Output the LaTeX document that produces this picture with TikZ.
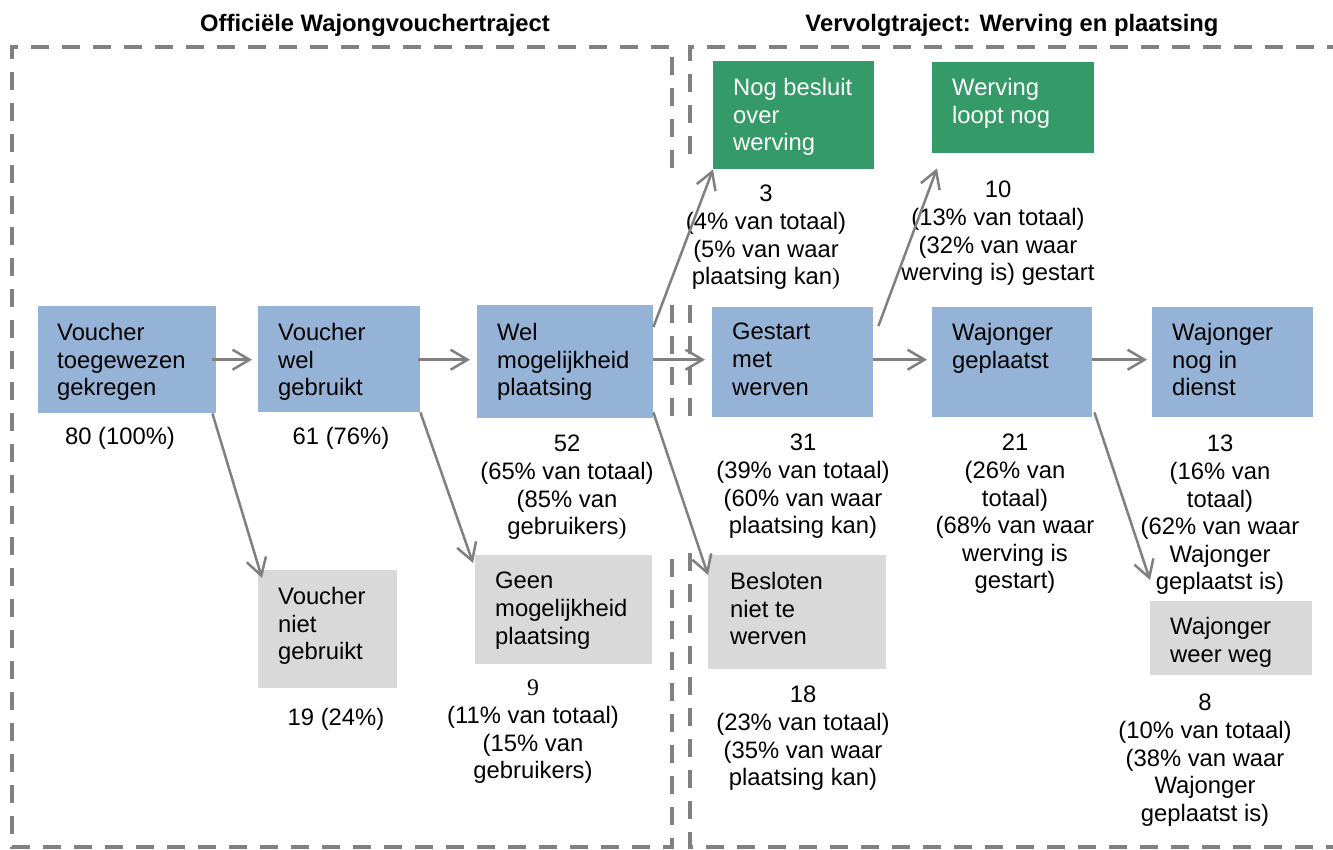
\documentclass[tikz,border=0pt]{standalone}
\usepackage{fontspec}
\setmainfont{Liberation Sans}
\newfontfamily\sernine{Liberation Serif}
\usetikzlibrary{arrows.meta}
\definecolor{boxblue}{HTML}{95B3D7}
\definecolor{boxgreen}{HTML}{349A68}
\definecolor{boxgray}{HTML}{D9D9D9}
\definecolor{linegray}{HTML}{808080}
\begin{document}
\begin{tikzpicture}[x=1pt,y=-1pt,
  box/.style={draw=none, inner sep=0pt, anchor=north west},
  bluebox/.style={box, fill=boxblue},
  greenbox/.style={box, fill=boxgreen},
  graybox/.style={box, fill=boxgray},
  boxtext/.style={anchor=north west, inner sep=0pt, align=left, font=\fontsize{23.8}{27.6}\selectfont},
  lbl/.style={anchor=north, inner sep=0pt, align=center, font=\fontsize{23.8}{27.6}\selectfont},
  title/.style={anchor=north, inner sep=0pt, font=\fontsize{23.8}{27.6}\selectfont\bfseries},
  frame/.style={draw=linegray, line width=4.5pt, dash pattern=on 18pt off 13pt},
  conn/.style={draw=linegray, line width=2.5pt, -{Straight Barb[length=17pt,width=20pt]}}
]
\path[use as bounding box, fill=white] (0,0) rectangle (1333,849);

% frames
\draw[frame] (672,168) -- (672,47) -- (12,47) -- (12,847) -- (672,847) -- (672,553);
\draw[frame] (672,305) -- (672,418);
\draw[frame] (1345,47) -- (690,47) -- (690,160);
\draw[frame] (690,305) -- (690,418);
\draw[frame] (690,553) -- (690,847) -- (1345,847);

% titles
\node[title] (t1) at (375,14) {Officiële Wajongvouchertraject};
\node[title] (t2) at (1012,14) {Vervolgtraject: Werving en plaatsing};

% boxes
\node[bluebox, minimum width=178pt, minimum height=107pt] (b1) at (38,306) {};
\node[bluebox, minimum width=162pt, minimum height=106pt] (b2) at (258,306) {};
\node[bluebox, minimum width=176pt, minimum height=113pt] (b3) at (477,305) {};
\node[bluebox, minimum width=161pt, minimum height=110pt] (b4) at (712,307) {};
\node[bluebox, minimum width=160pt, minimum height=110pt] (b5) at (932,307) {};
\node[bluebox, minimum width=161pt, minimum height=110pt] (b6) at (1152,307) {};
\node[greenbox, minimum width=161pt, minimum height=108pt] (g1) at (713,61) {};
\node[greenbox, minimum width=162pt, minimum height=91pt] (g2) at (932,62) {};
\node[graybox, minimum width=139pt, minimum height=118pt] (gr1) at (258,570) {};
\node[graybox, minimum width=177pt, minimum height=109pt] (gr2) at (475,555) {};
\node[graybox, minimum width=178pt, minimum height=114pt] (gr3) at (708,555) {};
\node[graybox, minimum width=162pt, minimum height=74pt] (gr4) at (1150,601) {};

% box texts
\node[boxtext] (b1t) at (57,323) {Voucher\\toegewezen\\gekregen};
\node[boxtext] (b2t) at (278,323) {Voucher\\wel\\gebruikt};
\node[boxtext] (b3t) at (497,323) {Wel\\mogelijkheid\\plaatsing};
\node[boxtext] (b4t) at (732,323) {Gestart\\met\\werven};
\node[boxtext] (b5t) at (952,323) {Wajonger\\geplaatst};
\node[boxtext] (b6t) at (1172,323) {Wajonger\\nog in\\dienst};
\node[boxtext, text=white] (g1t) at (733,78) {Nog besluit\\over\\werving};
\node[boxtext, text=white] (g2t) at (952,78) {Werving\\loopt nog};
\node[boxtext] (gr1t) at (278,587) {Voucher\\niet\\gebruikt};
\node[boxtext] (gr2t) at (495,572) {Geen\\mogelijkheid\\plaatsing};
\node[boxtext] (gr3t) at (730,572) {Besloten\\niet te\\werven};
\node[boxtext] (gr4t) at (1170,617) {Wajonger\\weer weg};

% labels
\node[lbl] (l1) at (120,427) {80 (100\%)};
\node[lbl] (l2) at (341,427) {61 (76\%)};
\node[lbl] (l3) at (567,435) {52\\(65\% van totaal)\\(85\% van\\gebruikers{\sernine )}};
\node[lbl] (l4) at (766,185) {3\\(4\% van totaal)\\(5\% van waar\\plaatsing kan{\sernine )}};
\node[lbl] (l5) at (998,181) {10\\(13\% van totaal)\\(32\% van waar\\werving is) gestart};
\node[lbl] (l6) at (803,434) {31\\(39\% van totaal)\\(60\% van waar\\plaatsing kan)};
\node[lbl] (l7) at (1015,434) {21\\(26\% van\\totaal)\\(68\% van waar\\werving is\\gestart)};
\node[lbl] (l8) at (1220,435) {13\\(16\% van\\totaal)\\(62\% van waar\\Wajonger\\geplaatst is)};
\node[lbl] (l9) at (336,708) {19 (24\%)};
\node[lbl] (l10) at (533,680) {{\sernine 9}\\(11\% van totaal)\\(15\% van\\gebruikers)};
\node[lbl] (l11) at (803,686) {18\\(23\% van totaal)\\(35\% van waar\\plaatsing kan)};
\node[lbl] (l12) at (1205,694) {8\\(10\% van totaal)\\(38\% van waar\\Wajonger\\geplaatst is)};

% connectors
\draw[conn] ([xshift=-4pt]b1.east) -- ([xshift=-6pt]b2.west |- b1.east);
\draw[conn] ([xshift=-2pt]b2.east |- b1.east) -- ([xshift=-7pt]b3.west |- b1.east);
\draw[conn] (b3.east |- b1.east) -- ([xshift=-7pt]b4.west |- b1.east);
\draw[conn] (b4.east |- b1.east) -- ([xshift=-5pt]b5.west |- b1.east);
\draw[conn] (b5.east |- b1.east) -- ([xshift=-5pt]b6.west |- b1.east);
\draw[conn] ([xshift=-4pt]b1.south east) -- ([xshift=4pt,yshift=-8pt]gr1.north west);
\draw[conn] (b2.south east) -- ([xshift=-2pt,yshift=-8pt]gr2.north west);
\draw[conn] ([yshift=6pt]b3.south east) -- ([yshift=-20pt]gr3.north west);
\draw[conn] ([yshift=-22pt]b3.north east) -- (g1.south west);
\draw[conn] ([xshift=5pt,yshift=-19pt]b4.north east) -- ([xshift=5pt,yshift=-15pt]g2.south west);
\draw[conn] ([xshift=2pt,yshift=5pt]b5.south east) -- ([yshift=21pt]gr4.north west);
\end{tikzpicture}
\end{document}
